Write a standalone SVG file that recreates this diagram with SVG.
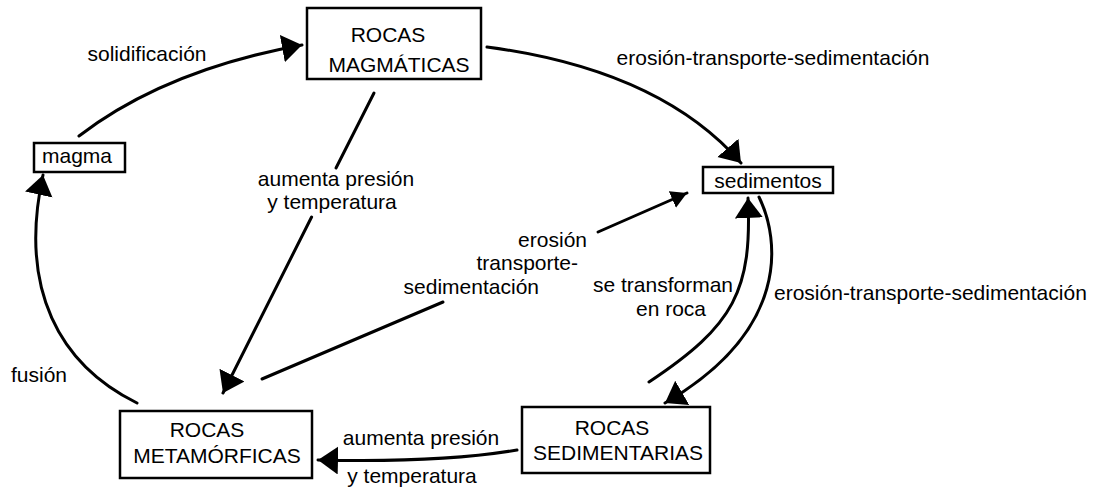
<svg xmlns="http://www.w3.org/2000/svg" width="1108" height="489" viewBox="0 0 1108 489">
<style>
text{font-family:"Liberation Sans",Arial,sans-serif;font-size:21px;fill:#000}
.box{fill:#fff;stroke:#000;stroke-width:2.5}
.c{fill:none;stroke:#000;stroke-width:3;stroke-linecap:round}
.m{text-anchor:middle}
.e{text-anchor:end}
</style>
<defs>
<marker id="ah" markerUnits="userSpaceOnUse" markerWidth="24" markerHeight="30" refX="20" refY="14" orient="auto" viewBox="0 0 24 30">
<path d="M0,0 L20,14 L0,28 z" fill="#000"/>
</marker>
<marker id="as" markerUnits="userSpaceOnUse" markerWidth="20" markerHeight="20" refX="16" refY="9" orient="auto" viewBox="0 0 20 20">
<path d="M0,0 L16,9 L0,18 z" fill="#000"/>
</marker>
</defs>
<rect width="1108" height="489" fill="#fff"/>
<g id="connectors">
<path class="c" d="M79,136 Q165,70 302,45" marker-end="url(#ah)"/>
<path class="c" d="M487,47 Q660,70 741,163" marker-end="url(#ah)"/>
<path class="c" d="M374,93 L336,168"/>
<path class="c" d="M311.6,217 L223,393" marker-end="url(#ah)"/>
<path class="c" d="M262,379 L443,302"/>
<path class="c" d="M598,232 L687,193" marker-end="url(#as)"/>
<path class="c" d="M649,382 C735,325 752,290 748,198" marker-end="url(#ah)"/>
<path class="c" d="M759,197 C780,240 790,330 665,403" marker-end="url(#ah)"/>
<path class="c" d="M517,450 C470,458 400,462 318,460" marker-end="url(#ah)"/>
<path class="c" d="M137,403 C60,365 18,290 43,175" marker-end="url(#ah)"/>
</g>
<g id="labels">
<text class="m" x="147" y="61">solidificación</text>
<text class="m" x="773" y="65">erosión-transporte-sedimentación</text>
<text class="m" x="336" y="186">aumenta presión</text>
<text class="m" x="332" y="209">y temperatura</text>
<text class="e" x="587" y="247">erosión</text>
<text class="e" x="578" y="270">transporte-</text>
<text class="e" x="539" y="294">sedimentación</text>
<text class="m" x="663" y="292">se transforman</text>
<text class="m" x="671" y="316">en roca</text>
<text x="774" y="300">erosión-transporte-sedimentación</text>
<text x="11" y="382">fusión</text>
<text class="m" x="421" y="445">aumenta presión</text>
<text class="m" x="412" y="483">y temperatura</text>
</g>
<g id="magmaticas">
<rect class="box" x="307" y="8" width="174" height="71"/>
<text class="m" x="388" y="42">ROCAS</text>
<text class="m" x="399" y="72">MAGMÁTICAS</text>
</g>
<g id="magma">
<rect class="box" x="34" y="143" width="91" height="29"/>
<text class="m" x="77" y="163">magma</text>
</g>
<g id="sedimentos">
<rect class="box" x="703" y="167" width="130" height="26"/>
<text class="m" x="768" y="188">sedimentos</text>
</g>
<g id="metamorficas">
<rect class="box" x="120" y="411" width="192" height="67"/>
<text class="m" x="207" y="437">ROCAS</text>
<text class="m" x="217" y="463">METAMÓRFICAS</text>
</g>
<g id="sedimentarias">
<rect class="box" x="522" y="407" width="188" height="66"/>
<text class="m" x="612" y="435">ROCAS</text>
<text class="m" x="618" y="460">SEDIMENTARIAS</text>
</g>
</svg>
